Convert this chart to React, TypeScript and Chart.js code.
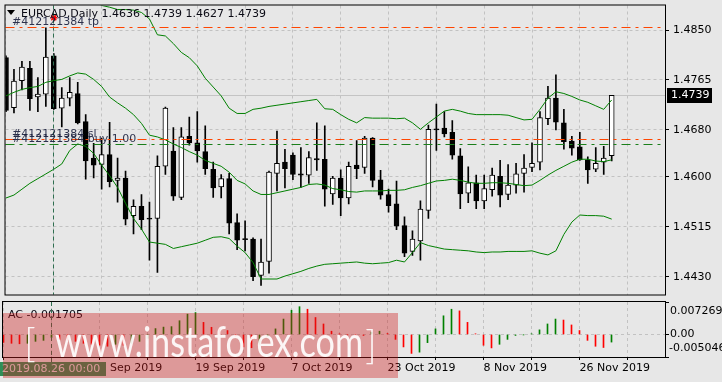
import { useEffect, useRef } from 'react';
import { Chart, registerables } from 'chart.js';

Chart.register(...registerables);

// ---------- DATA ----------
const opens = [1.4803, 1.4718, 1.4764, 1.4785, 1.4736, 1.4741, 1.4806, 1.4717, 1.4734, 1.4742,
  1.4694, 1.4632, 1.4621, 1.4638, 1.4594, 1.4598, 1.4534, 1.4550, 1.4529, 1.4529,
  1.4618, 1.4644, 1.4565, 1.4669, 1.4658, 1.4643, 1.4613, 1.4583, 1.4597, 1.4522,
  1.4494, 1.4494, 1.4432, 1.4456, 1.4606, 1.4625, 1.4637, 1.4605, 1.4603, 1.4631,
  1.4630, 1.4571, 1.4598, 1.4564, 1.4620, 1.4616, 1.4666, 1.4595, 1.4570, 1.4554,
  1.4517, 1.4473, 1.4491, 1.4543, 1.4682, 1.4683, 1.4676, 1.4636, 1.4572, 1.4590,
  1.4559, 1.4578, 1.4601, 1.4570, 1.4586, 1.4606, 1.4616, 1.4625, 1.4699, 1.4734,
  1.4692, 1.4661, 1.4651, 1.4629, 1.4613, 1.4625, 1.4636];
const highs = [1.4806, 1.4783, 1.4797, 1.4797, 1.4769, 1.4854, 1.4810, 1.4752, 1.4769, 1.4761,
  1.4706, 1.4657, 1.4666, 1.4693, 1.4632, 1.4610, 1.4561, 1.4570, 1.4557, 1.4636,
  1.4719, 1.4684, 1.4684, 1.4702, 1.4711, 1.4687, 1.4625, 1.4604, 1.4606, 1.4537,
  1.4525, 1.4496, 1.4494, 1.4610, 1.4678, 1.4647, 1.4641, 1.4650, 1.4643, 1.4692,
  1.4687, 1.4601, 1.4612, 1.4625, 1.4662, 1.4669, 1.4667, 1.4611, 1.4579, 1.4593,
  1.4532, 1.4508, 1.4559, 1.4688, 1.4724, 1.4711, 1.4696, 1.4648, 1.4617, 1.4603,
  1.4603, 1.4615, 1.4628, 1.4621, 1.4623, 1.4638, 1.4658, 1.4711, 1.4754, 1.4774,
  1.4715, 1.4669, 1.4676, 1.4634, 1.4650, 1.4652, 1.4739];
const lows = [1.4711, 1.4709, 1.4748, 1.4713, 1.4711, 1.4720, 1.4715, 1.4685, 1.4721, 1.4690,
  1.4596, 1.4598, 1.4579, 1.4583, 1.4557, 1.4518, 1.4503, 1.4510, 1.4458, 1.4437,
  1.4604, 1.4560, 1.4561, 1.4654, 1.4625, 1.4604, 1.4565, 1.4564, 1.4503, 1.4476,
  1.4474, 1.4423, 1.4415, 1.4436, 1.4576, 1.4581, 1.4595, 1.4582, 1.4589, 1.4611,
  1.4550, 1.4553, 1.4534, 1.4554, 1.4597, 1.4606, 1.4583, 1.4562, 1.4540, 1.4510,
  1.4464, 1.4466, 1.4458, 1.4529, 1.4645, 1.4668, 1.4630, 1.4546, 1.4556, 1.4546,
  1.4546, 1.4567, 1.4549, 1.4561, 1.4572, 1.4574, 1.4609, 1.4612, 1.4689, 1.4680,
  1.4647, 1.4637, 1.4628, 1.4589, 1.4609, 1.4604, 1.4627];
const closes = [1.4713, 1.4763, 1.4787, 1.4733, 1.4741, 1.4804, 1.4716, 1.4734, 1.4744, 1.4692,
  1.4627, 1.4620, 1.4638, 1.4592, 1.4598, 1.4528, 1.4550, 1.4527, 1.4528, 1.4618,
  1.4717, 1.4567, 1.4668, 1.4658, 1.4644, 1.4614, 1.4581, 1.4597, 1.4521, 1.4492,
  1.4493, 1.4430, 1.4455, 1.4608, 1.4623, 1.4614, 1.4604, 1.4603, 1.4633, 1.4629,
  1.4579, 1.4598, 1.4564, 1.4618, 1.4614, 1.4666, 1.4594, 1.4569, 1.4551, 1.4516,
  1.4470, 1.4494, 1.4545, 1.4681, 1.4680, 1.4673, 1.4637, 1.4571, 1.4590, 1.4559,
  1.4580, 1.4603, 1.4569, 1.4586, 1.4605, 1.4615, 1.4623, 1.4701, 1.4734, 1.4693,
  1.4660, 1.4649, 1.4629, 1.4612, 1.4623, 1.4632, 1.4739];

const bbUpper = [null, null, null, null, null, null, null, null, null, null,
  1.4915, 1.4900, 1.4892, 1.4889, 1.4885, 1.4885, 1.4884, 1.4880, 1.4869, 1.4842,
  1.4840, 1.4827, 1.4812, 1.4803, 1.4789, 1.4768, 1.4753, 1.4738, 1.4717, 1.4708,
  1.4708, 1.4715, 1.4717, 1.4720, 1.4722, 1.4724, 1.4726, 1.4728, 1.4730, 1.4732,
  1.4716, 1.4715, 1.4706, 1.4698, 1.4692, 1.4701, 1.4700, 1.4700, 1.4700, 1.4699,
  1.4700, 1.4692, 1.4681, 1.4692, 1.4702, 1.4712, 1.4715, 1.4712, 1.4708, 1.4706,
  1.4706, 1.4706, 1.4706, 1.4705, 1.4701, 1.4697, 1.4698, 1.4715, 1.4734, 1.4745,
  1.4742, 1.4737, 1.4731, 1.4727, 1.4721, 1.4715, 1.4731];
const bbMiddle = [1.4738, 1.4744, 1.4749, 1.4752, 1.4754, 1.4761, 1.4764, 1.4766, 1.4772, 1.4777,
  1.4775, 1.4766, 1.4754, 1.4736, 1.4726, 1.4717, 1.4706, 1.4691, 1.4671, 1.4668,
  1.4663, 1.4656, 1.4650, 1.4643, 1.4637, 1.4628, 1.4623, 1.4618, 1.4608, 1.4594,
  1.4588, 1.4576, 1.4570, 1.4570, 1.4573, 1.4576, 1.4579, 1.4582, 1.4587, 1.4588,
  1.4586, 1.4580, 1.4578, 1.4575, 1.4574, 1.4576, 1.4576, 1.4576, 1.4577, 1.4577,
  1.4578, 1.4582, 1.4585, 1.4589, 1.4593, 1.4594, 1.4596, 1.4594, 1.4591, 1.4589,
  1.4589, 1.4590, 1.4590, 1.4589, 1.4587, 1.4585, 1.4586, 1.4594, 1.4603, 1.4611,
  1.4618, 1.4625, 1.4630, 1.4630, 1.4627, 1.4626, 1.4629];
const bbLower = [1.4564, 1.4569, 1.4579, 1.4589, 1.4597, 1.4605, 1.4613, 1.4622, 1.4645, 1.4656,
  1.4652, 1.4640, 1.4620, 1.4602, 1.4582, 1.4555, 1.4529, 1.4511, 1.4489, 1.4487,
  1.4485, 1.4478, 1.4481, 1.4484, 1.4487, 1.4492, 1.4497, 1.4498, 1.4495, 1.4482,
  1.4471, 1.4454, 1.4426, 1.4426, 1.4426, 1.4431, 1.4435, 1.4439, 1.4444, 1.4448,
  1.4451, 1.4452, 1.4453, 1.4454, 1.4455, 1.4453, 1.4452, 1.4453, 1.4454, 1.4458,
  1.4455, 1.4471, 1.4488, 1.4483, 1.4480, 1.4477, 1.4476, 1.4475, 1.4474, 1.4472,
  1.4471, 1.4472, 1.4472, 1.4473, 1.4473, 1.4473, 1.4474, 1.4470, 1.4467, 1.4474,
  1.4502, 1.4523, 1.4535, 1.4534, 1.4534, 1.4533, 1.4528];

const acValues = [-0.00176, -0.00198, -0.00209, -0.00198, -0.00154, -0.00132, -0.00066, -0.00110, -0.00132, -0.00154,
  -0.00198, -0.00220, -0.00242, -0.00264, -0.00220, -0.00242, -0.00198, -0.00154, -0.00088, 0.00132,
  0.00165, 0.00176, 0.00308, 0.00455, 0.00490, 0.00271, 0.00161, 0.00125, 0.00088, -0.00040,
  -0.00279, -0.00297, -0.00220, -0.00044, 0.00125, 0.00345, 0.00543, 0.00622, 0.00565, 0.00380,
  0.00235, 0.00073, 0.00015, -0.00007, -0.00015, -0.00022, 0.00051, 0.00073, 0.00022, -0.00110,
  -0.00279, -0.00424, -0.00396, -0.00183, 0.00125, 0.00418, 0.00565, 0.00528, 0.00271, 0.00015,
  -0.00242, -0.00301, -0.00220, -0.00110, -0.00022, -0.00007, 0.00015, 0.00103, 0.00235, 0.00345,
  0.00323, 0.00213, 0.00088, -0.00132, -0.00264, -0.00292, -0.001705];

const priceTicks = [1.4850, 1.4765, 1.4680, 1.4600, 1.4515, 1.4430];
const gridBars = [0, 6, 12, 18, 24, 30, 36, 42, 48, 54, 60, 66, 72, 78];
const dateLabelBars = [12, 24, 36, 48, 60, 72];
const dateLabelTexts = ['3 Sep 2019', '19 Sep 2019', '7 Oct 2019', '23 Oct 2019', '8 Nov 2019', '26 Nov 2019'];
const acTickValues = [0.007269, 0, -0.005046];
const acTickTexts = ['0.007269', '0.00', '-0.005046'];

const symbolTitle = 'EURCAD,Daily';
const lastOHLC = [1.4636, 1.4739, 1.4627, 1.4739];
const orderId = '#412121384';
const tpPrice = 1.4855;
const slPrice = 1.4665;
const buyPrice = 1.4656;
const buyLots = '1.00';
const entryBar = 6;
const entryLabel = '2019.08.26 00:00';
const markerPrice = 1.4871;
const bidPrice = 1.4739;
const acCurrent = -0.001705;
const watermark = 'www.instaforex.com';

// ---------- SCALE RANGES / STYLES ----------
const PRICE_MIN = 1.43996;
const PRICE_MAX = 1.48919;
const X_MIN = -0.0625;
const X_MAX = 82.6875;
const AC_MIN = -0.005046;
const AC_MAX = 0.007269;

const FONT = '"DejaVu Sans", sans-serif';
const GRID = '#c2c2c2';
const BG = '#e7e7e7';
const BAND = '#008000';
const AC_UP = '#008000';
const AC_DOWN = '#ff0000';
const ORDER_RED = '#ff4500';
const ORDER_GREEN = '#1a7f1a';

const idx = opens.map((_, i) => i);

function xScaleBase(showLabels: boolean) {
  return {
    type: 'linear' as const,
    min: X_MIN,
    max: X_MAX,
    offset: false,
    afterBuildTicks: (s: any) => { s.ticks = gridBars.map((v) => ({ value: v })); },
    grid: { color: GRID, lineWidth: 1, drawTicks: showLabels, tickLength: 3, tickColor: '#000', offset: false },
    border: { display: false, dash: [3, 3] },
    ticks: {
      display: showLabels,
      autoSkip: false,
      maxRotation: 0,
      minRotation: 0,
      align: 'start' as const,
      padding: 2,
      color: '#000',
      font: { family: FONT, size: 11 },
      callback: (v: any) => {
        const k = dateLabelBars.indexOf(Number(v));
        return k >= 0 ? dateLabelTexts[k] : '';
      },
    },
    afterFit: (s: any) => { s.height = showLabels ? 25 : 0; s.paddingLeft = 0; s.paddingRight = 0; },
  };
}

const mainDecor = {
  id: 'mainDecor',
  beforeDatasetsDraw(chart: any) {
    const { ctx, chartArea: a, scales } = chart;
    const yb = Math.round(scales.y.getPixelForValue(bidPrice)) + 0.5;
    ctx.save();
    ctx.strokeStyle = '#c4c4c4';
    ctx.lineWidth = 1;
    ctx.beginPath();
    ctx.moveTo(a.left, yb);
    ctx.lineTo(a.right, yb);
    ctx.stroke();
    ctx.restore();
  },
  afterDraw(chart: any) {
    const { ctx, chartArea: a, scales } = chart;
    const x = scales.x;
    const y = scales.y;
    ctx.save();
    const xe = Math.round(x.getPixelForValue(entryBar) - 0.5) + 0.5;
    ctx.strokeStyle = '#2f6f50';
    ctx.lineWidth = 1;
    ctx.setLineDash([4, 3]);
    ctx.beginPath();
    ctx.moveTo(xe, a.top);
    ctx.lineTo(xe, a.bottom);
    ctx.stroke();
    const hline = (price: number, color: string) => {
      const yy = Math.round(y.getPixelForValue(price)) + 0.5;
      ctx.strokeStyle = color;
      ctx.setLineDash([9, 5, 3, 5]);
      ctx.beginPath();
      ctx.moveTo(a.left, yy);
      ctx.lineTo(a.right, yy);
      ctx.stroke();
      return yy;
    };
    const yTp = hline(tpPrice, ORDER_RED);
    const ySl = hline(slPrice, ORDER_RED);
    const yBuy = hline(buyPrice, ORDER_GREEN);
    ctx.setLineDash([]);
    ctx.font = `11px ${FONT}`;
    ctx.textBaseline = 'alphabetic';
    ctx.fillStyle = '#000';
    ctx.beginPath();
    ctx.moveTo(7, 10);
    ctx.lineTo(15, 10);
    ctx.lineTo(11, 15);
    ctx.closePath();
    ctx.fill();
    ctx.fillStyle = '#0a0a14';
    ctx.fillText(`${symbolTitle} ${lastOHLC.map((v) => v.toFixed(4)).join(' ')}`, 21, 17);
    ctx.fillStyle = 'rgba(24,30,60,0.9)';
    ctx.fillText(`${orderId} tp`, 12, yTp - 3);
    ctx.fillText(`${orderId} sl`, 12, ySl - 3);
    ctx.fillText(`${orderId} buy ${buyLots}`, 12, yBuy - 3);
    ctx.strokeStyle = '#000';
    ctx.lineWidth = 1;
    ctx.strokeRect(a.left - 0.5, a.top - 0.5, a.right - a.left + 1, a.bottom - a.top + 1);
    const yb = y.getPixelForValue(bidPrice);
    ctx.fillStyle = '#000';
    ctx.fillRect(a.right + 2, Math.round(yb) - 7, 45, 15);
    ctx.fillStyle = '#fff';
    ctx.textBaseline = 'middle';
    ctx.fillText(bidPrice.toFixed(4), a.right + 6, Math.round(yb) + 0.5);
    ctx.restore();
  },
};

const acDecor = {
  id: 'acDecor',
  afterDraw(chart: any) {
    const { ctx, chartArea: a, scales } = chart;
    const x = scales.x;
    const y = scales.y;
    ctx.save();
    ctx.strokeStyle = '#000';
    ctx.lineWidth = 1;
    ctx.strokeRect(a.left - 0.5, a.top - 0.5, a.right - a.left + 1, a.bottom - a.top + 1);
    ctx.font = `11px ${FONT}`;
    ctx.fillStyle = '#0a0a14';
    ctx.textBaseline = 'alphabetic';
    ctx.fillText(`AC ${acCurrent.toFixed(6)}`, 8, a.top + 16);
    ctx.fillStyle = '#000';
    ctx.textBaseline = 'middle';
    ctx.fillText(acTickTexts[0], a.right + 5, y.getPixelForValue(acTickValues[0]) + 9);
    ctx.fillText(acTickTexts[1], a.right + 5, y.getPixelForValue(acTickValues[1]));
    ctx.fillText(acTickTexts[2], a.right + 4, y.getPixelForValue(acTickValues[2]) - 9);
    const xe = Math.round(x.getPixelForValue(entryBar) - 0.5) + 0.5;
    ctx.strokeStyle = '#2f6f50';
    ctx.setLineDash([4, 3]);
    ctx.beginPath();
    ctx.moveTo(xe, a.top);
    ctx.lineTo(xe, a.bottom + 5);
    ctx.stroke();
    ctx.setLineDash([]);
    ctx.fillStyle = '#2f8f58';
    ctx.fillRect(0, a.bottom + 5, 106, 14);
    ctx.fillStyle = '#e4e4e4';
    ctx.fillText(entryLabel, 2, a.bottom + 12);
    // watermark
    ctx.fillStyle = 'rgba(205,25,25,0.38)';
    ctx.fillRect(3, 13, 395, 65);
    ctx.fillStyle = 'rgba(255,255,255,0.9)';
    ctx.textBaseline = 'alphabetic';
    ctx.font = '400 42px Lato, "DejaVu Sans", sans-serif';
    const w = ctx.measureText(watermark).width;
    ctx.save();
    ctx.translate(55, 57);
    ctx.scale(308 / w, 1);
    ctx.fillText(watermark, 0, 0);
    ctx.restore();
    ctx.font = '300 40px Lato, "DejaVu Sans", sans-serif';
    ctx.fillText('[', 24, 57);
    ctx.fillText(']', 365, 59);
    ctx.restore();
  },
};

export default function App() {
  const mainRef = useRef<HTMLCanvasElement>(null);
  const acRef = useRef<HTMLCanvasElement>(null);

  useEffect(() => {
    if (!mainRef.current || !acRef.current) return;
    const bull = idx.map((i) => closes[i] >= opens[i]);

    const main = new Chart(mainRef.current, {
      type: 'bar',
      data: {
        datasets: [
          {
            type: 'line', label: 'BB upper',
            data: idx.map((i) => ({ x: i, y: bbUpper[i] })) as any,
            borderColor: BAND, borderWidth: 1, pointRadius: 0, tension: 0, order: 0, spanGaps: false,
          },
          {
            type: 'line', label: 'BB middle',
            data: idx.map((i) => ({ x: i, y: bbMiddle[i] })) as any,
            borderColor: BAND, borderWidth: 1, pointRadius: 0, tension: 0, order: 0,
          },
          {
            type: 'line', label: 'BB lower',
            data: idx.map((i) => ({ x: i, y: bbLower[i] })) as any,
            borderColor: BAND, borderWidth: 1, pointRadius: 0, tension: 0, order: 0,
          },
          {
            type: 'scatter', label: 'marker',
            data: [{ x: entryBar, y: markerPrice }] as any,
            pointStyle: 'star', pointRadius: 3.5, pointBorderColor: '#ff0000', pointBorderWidth: 1.5,
            pointBackgroundColor: '#ff0000', order: 0,
          } as any,
          {
            type: 'bar', label: 'bodies',
            data: idx.map((i) => ({ x: i, y: [Math.min(opens[i], closes[i]), Math.max(opens[i], closes[i])] })) as any,
            backgroundColor: idx.map((i) => (bull[i] ? '#ffffff' : '#000000')),
            borderColor: '#000000', borderWidth: 1, borderSkipped: false,
            barThickness: 5, grouped: false, minBarLength: 1, order: 1,
          } as any,
          {
            type: 'bar', label: 'wicks',
            data: idx.map((i) => ({ x: i, y: [lows[i], highs[i]] })) as any,
            backgroundColor: '#000000', borderWidth: 0,
            barThickness: 1, grouped: false, order: 2,
          } as any,
        ],
      },
      options: {
        responsive: false,
        animation: false,
        events: [],
        layout: { padding: { left: 3, top: 3, right: 0, bottom: 0 } },
        plugins: { legend: { display: false }, tooltip: { enabled: false } },
        scales: {
          x: xScaleBase(false) as any,
          y: {
            type: 'linear',
            position: 'right',
            min: PRICE_MIN,
            max: PRICE_MAX,
            afterBuildTicks: (s: any) => { s.ticks = priceTicks.map((v) => ({ value: v })); },
            ticks: { color: '#000', font: { family: FONT, size: 11 }, padding: 4, callback: (v: any) => Number(v).toFixed(4) },
            grid: { color: GRID, lineWidth: 1, drawTicks: true, tickLength: 4, tickColor: '#000' },
            border: { display: false, dash: [3, 3] },
            afterFit: (s: any) => { s.width = 57; s.paddingTop = 0; s.paddingBottom = 0; },
          } as any,
        },
      },
      plugins: [mainDecor],
    });

    const ac = new Chart(acRef.current, {
      type: 'bar',
      data: {
        datasets: [
          {
            label: 'AC',
            data: idx.map((i) => ({ x: i, y: acValues[i] })) as any,
            backgroundColor: idx.map((i) => (i > 0 && acValues[i] > acValues[i - 1] ? AC_UP : AC_DOWN)),
            borderWidth: 0,
            barThickness: 1,
            grouped: false,
          } as any,
        ],
      },
      options: {
        responsive: false,
        animation: false,
        events: [],
        layout: { padding: { left: 3, top: 2, right: 0, bottom: 0 } },
        plugins: { legend: { display: false }, tooltip: { enabled: false } },
        scales: {
          x: xScaleBase(true) as any,
          y: {
            type: 'linear',
            position: 'right',
            min: AC_MIN,
            max: AC_MAX,
            afterBuildTicks: (s: any) => { s.ticks = acTickValues.map((v) => ({ value: v })); },
            ticks: { display: false },
            grid: {
              color: (c: any) => (c.tick && c.tick.value === 0 ? GRID : 'rgba(0,0,0,0)'),
              lineWidth: 1, drawTicks: true, tickLength: 4, tickColor: '#000',
            },
            border: { display: false, dash: [3, 3] },
            afterFit: (s: any) => { s.width = 57; s.paddingTop = 0; s.paddingBottom = 0; },
          } as any,
        },
      },
      plugins: [acDecor],
    });

    return () => {
      main.destroy();
      ac.destroy();
    };
  }, []);

  return (
    <div style={{ position: 'fixed', left: 0, top: 0, width: 722, height: 382, background: BG, overflow: 'hidden' }}>
      <canvas ref={mainRef} width={722} height={300} style={{ position: 'absolute', left: 0, top: 0, width: 722, height: 300 }} />
      <canvas ref={acRef} width={722} height={82} style={{ position: 'absolute', left: 0, top: 300, width: 722, height: 82 }} />
    </div>
  );
}
